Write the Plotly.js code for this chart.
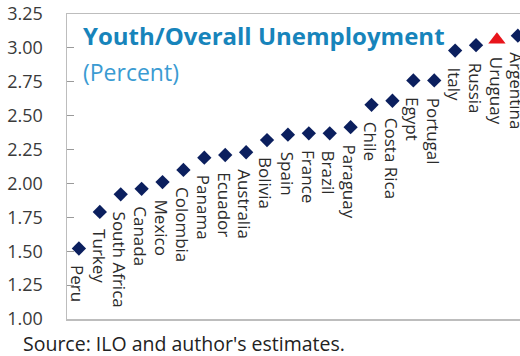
<!DOCTYPE html>
<html>
<head>
<meta charset="utf-8">
<script src="https://cdn.plot.ly/plotly-3.0.1.min.js"></script>
<style>
html,body{margin:0;padding:0;overflow:hidden;background:#fff;width:520px;height:356px;}
#chart{width:560px;height:356px;}
</style>
</head>
<body>
<div id="chart"></div>
<script>
var countries = ["Peru","Turkey","South Africa","Canada","Mexico","Colombia","Panama","Ecuador","Australia","Bolivia","Spain","France","Brazil","Paraguay","Chile","Costa Rica","Egypt","Portugal","Italy","Russia","Uruguay","Argentina"];
var ratios = [1.52,1.79,1.92,1.96,2.01,2.10,2.19,2.21,2.23,2.32,2.36,2.37,2.37,2.415,2.58,2.61,2.76,2.76,2.98,3.02,3.06,3.09];
var highlight = "Uruguay";
var yTicks = [1.00,1.25,1.50,1.75,2.00,2.25,2.50,2.75,3.00,3.25];
var yTickText = ["1.00","1.25","1.50","1.75","2.00","2.25","2.50","2.75","3.00","3.25"];
var titleText = "Youth/Overall Unemployment";
var subtitleText = "(Percent)";
var sourceText = "Source: ILO and author's estimates.";

var normX = [], normY = [], hiX = [], hiY = [];
countries.forEach(function(c,i){
  if(c===highlight){hiX.push(i);hiY.push(ratios[i]);}
  else {normX.push(i);normY.push(ratios[i]);}
});

var traces = [
  {x:normX, y:normY, type:'scatter', mode:'markers', cliponaxis:false,
   marker:{symbol:'diamond', size:11, color:'#0b1f5e'}, hoverinfo:'skip'},
  {x:hiX, y:hiY, type:'scatter', mode:'markers', cliponaxis:false,
   marker:{symbol:'triangle-up', size:15, color:'#e8141b'}, hoverinfo:'skip'}
];

var annotations = countries.map(function(c,i){
  return {x:i, y:ratios[i], xref:'x', yref:'y', text:c, showarrow:false,
    textangle:90, xanchor:'center', yanchor:'top', yshift:-15, xshift:-1,
    font:{family:'Open Sans, sans-serif', size:17, color:'#2b2b2b'}};
});
annotations.push({xref:'paper', yref:'paper', x:0, y:0.929, xanchor:'left', yanchor:'middle', xshift:14,
  text:'<b>'+titleText+'</b>', showarrow:false,
  font:{family:'Open Sans, sans-serif', size:24, color:'#1784bb'}});
annotations.push({xref:'paper', yref:'paper', x:0, y:0.81, xanchor:'left', yanchor:'middle', xshift:14,
  text:subtitleText, showarrow:false,
  font:{family:'Open Sans, sans-serif', size:23, color:'#3a9bd2'}});
annotations.push({xref:'paper', yref:'paper', x:0, y:-0.08, xanchor:'left', yanchor:'middle', xshift:-46,
  text:sourceText, showarrow:false,
  font:{family:'Open Sans, sans-serif', size:19.5, color:'#222222'}});

var layout = {
  width:560, height:356,
  margin:{l:67, r:20, t:13.5, b:36.5, pad:0},
  paper_bgcolor:'#ffffff', plot_bgcolor:'#ffffff',
  showlegend:false,
  xaxis:{range:[-0.57,22.06], showgrid:false, zeroline:false, showticklabels:false, ticks:'',
    showline:true, mirror:true, linecolor:'#bdbdbd', linewidth:1.5, fixedrange:true},
  yaxis:{range:[1,3.25], tickvals:yTicks, ticktext:yTickText, showgrid:false, zeroline:false,
    ticks:'inside', ticklen:7, tickcolor:'#9a9a9a', tickwidth:1,
    showline:true, mirror:true, linecolor:'#bdbdbd', linewidth:1.5,
    ticklabelstandoff:19,
    tickfont:{family:'Open Sans, sans-serif', size:18, color:'#3a3a3a'}, fixedrange:true},
  annotations:annotations
};

Plotly.newPlot('chart', traces, layout, {displayModeBar:false, staticPlot:true});
</script>
</body>
</html>
